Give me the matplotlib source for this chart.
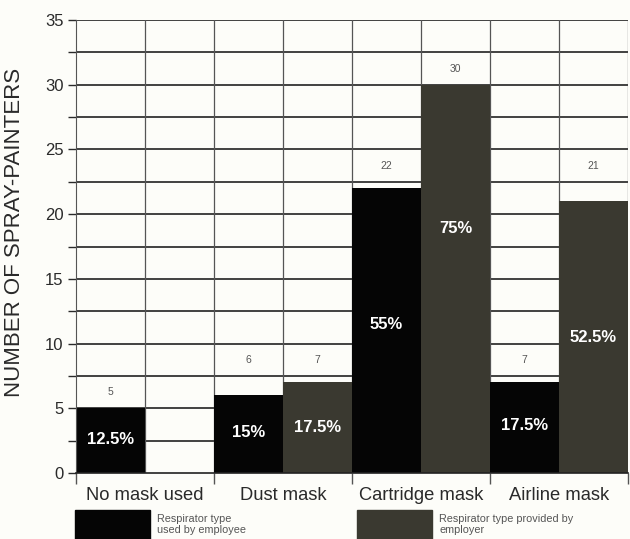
import numpy as np
import matplotlib.pyplot as plt
from matplotlib.patches import Rectangle

plt.rcParams['font.family'] = ['Liberation Sans', 'DejaVu Sans']

categories = ["No mask used", "Dust mask", "Cartridge mask", "Airline mask"]
used_by_employee = [5, 6, 22, 7]
provided_by_employer = [0, 7, 30, 21]
pct_employee = ["12.5%", "15%", "55%", "17.5%"]
pct_employer = ["", "17.5%", "75%", "52.5%"]
legend_labels = ["Respirator type\nused by employee",
                 "Respirator type provided by\nemployer"]

col_emp = "#050505"
col_prov = "#3a3930"
bg = "#fdfdf9"
ink = "#2a2a2a"

fig = plt.figure(figsize=(6.3, 5.39), dpi=100, facecolor=bg)
ax = fig.add_axes([76 / 630, 66 / 539, 552 / 630, 453 / 539], facecolor=bg)

# grid first so the bars sit on top of it
for y in np.arange(2.5, 35.1, 2.5):
    ax.axhline(y, color="#222222", lw=1.2, zorder=1)
for x in range(1, 9):
    ax.axvline(x, color="#555555", lw=0.9, zorder=1)

def cell_above(v):
    # value labels sit in the middle of the grid cell just above the bar
    return np.ceil(v / 2.5) * 2.5 + 1.25

for g in range(len(categories)):
    xe, xp = 2 * g + 0.5, 2 * g + 1.5
    ve, vp = used_by_employee[g], provided_by_employer[g]
    ax.bar(xe, ve, width=1.0, color=col_emp, zorder=2)
    ax.text(xe, cell_above(ve), str(ve), ha="center", va="center",
            fontsize=7.5, color="#555555", zorder=3)
    ax.text(xe, ve * 0.52, pct_employee[g], ha="center", va="center",
            fontsize=12, fontweight="bold", color="white", zorder=3)
    if vp > 0:
        ax.bar(xp, vp, width=1.0, color=col_prov, zorder=2)
        ax.text(xp, cell_above(vp), str(vp), ha="center", va="center",
                fontsize=7.5, color="#555555", zorder=3)
        fy = 18.9 if vp == 30 else vp * 0.5
        ax.text(xp, fy, pct_employer[g], ha="center", va="center",
                fontsize=12, fontweight="bold", color="white", zorder=3)

ax.set_xlim(0, 8)
ax.set_ylim(0, 35)
ax.set_yticks(np.arange(0, 36, 5))
ax.set_yticks(np.arange(0, 35.1, 2.5), minor=True)
ax.tick_params(axis="y", which="both", length=6, width=1, color=ink,
               labelsize=12, labelcolor=ink, pad=3)
ax.set_xticks([0, 2, 4, 6, 8])
ax.set_xticklabels([])
ax.tick_params(axis="x", which="major", length=8, width=1, color="#555555")
for g, name in enumerate(categories):
    ax.text(2 * g + 1, -1.75, name, ha="center", va="center",
            fontsize=13.2, color=ink)

for s in ["top", "right"]:
    ax.spines[s].set_visible(False)
ax.spines["left"].set_color("#555555")
ax.spines["bottom"].set_color("#222222")
ax.spines["bottom"].set_linewidth(1.2)
ax.set_ylabel("NUMBER OF SPRAY-PAINTERS", fontsize=16, color=ink)
ax.yaxis.set_label_coords(-0.092, 0.532)

# legend swatches along the bottom
for x0, col, lab in [(75, col_emp, legend_labels[0]), (357, col_prov, legend_labels[1])]:
    fig.patches.append(Rectangle((x0 / 630, 0), 75 / 630, 29 / 539,
                                 transform=fig.transFigure, color=col))
    fig.text((x0 + 82) / 630, 25 / 539, lab, ha="left", va="top",
             fontsize=7.8, color="#555555", linespacing=1.1)

fig.savefig("out.png", dpi=100, facecolor=bg)
